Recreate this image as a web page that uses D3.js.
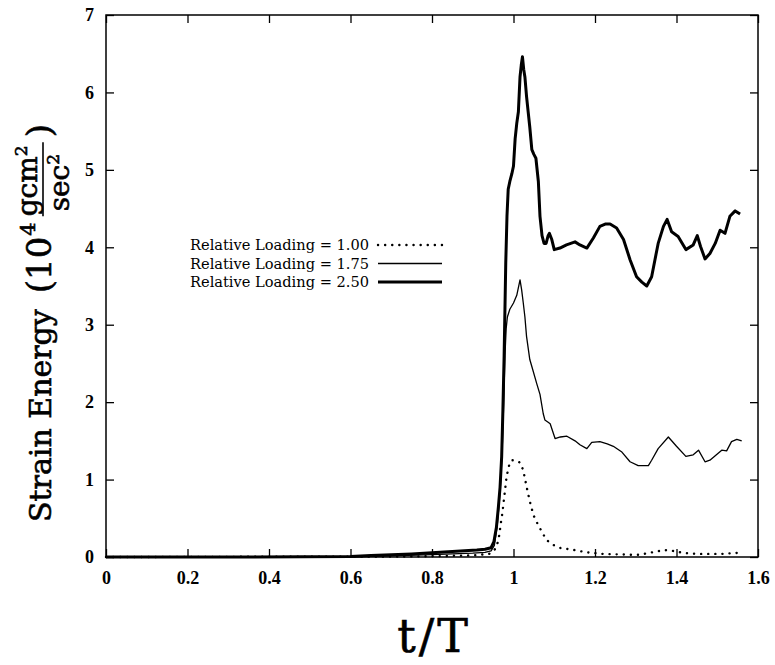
<!DOCTYPE html>
<html>
<head>
<meta charset="utf-8">
<script src="https://cdn.jsdelivr.net/npm/d3@7"></script>
<style>
  body { margin: 0; background: #fff; }
  svg { display: block; }
  .tick-label { font-family: "Liberation Serif", serif; font-weight: bold; font-size: 18px; }
  .legend-label { font-family: "DejaVu Serif", serif; font-size: 14.6px; }
  .axis-title { font-family: "DejaVu Serif", serif; stroke: #000; stroke-width: 0.6px; }
</style>
</head>
<body>
<div id="chart"></div>
<script>
// t/T values and strain energy (10^4 g cm^2 / sec^2)
const load100 = [
  [0, 0], [0.7, 0.005], [0.8, 0.01], [0.9, 0.02], [0.94, 0.04], [0.952, 0.08],
  [0.959, 0.14], [0.965, 0.28], [0.969, 0.44], [0.973, 0.58], [0.976, 0.72],
  [0.979, 0.85], [0.983, 1.04], [0.99, 1.2], [0.996, 1.25], [1.004, 1.25],
  [1.016, 1.22], [1.024, 1.12], [1.032, 0.91], [1.04, 0.72], [1.049, 0.54],
  [1.058, 0.44], [1.069, 0.33], [1.081, 0.22], [1.098, 0.155], [1.118, 0.11],
  [1.139, 0.1], [1.159, 0.08], [1.18, 0.06], [1.2, 0.05], [1.22, 0.04],
  [1.25, 0.035], [1.28, 0.03], [1.31, 0.03], [1.34, 0.06], [1.37, 0.09],
  [1.39, 0.08], [1.42, 0.05], [1.45, 0.04], [1.48, 0.04], [1.51, 0.04],
  [1.54, 0.05], [1.555, 0.055],
];

const load175 = [
  [0, 0], [0.6, 0.003], [0.7, 0.015], [0.8, 0.03], [0.85, 0.04], [0.9, 0.05],
  [0.93, 0.06], [0.945, 0.08], [0.953, 0.15], [0.96, 0.4], [0.965, 0.7],
  [0.969, 1.0], [0.973, 1.5], [0.976, 2.0], [0.979, 2.6], [0.982, 2.95],
  [0.985, 3.1], [0.991, 3.2], [1.0, 3.28], [1.008, 3.38], [1.016, 3.58],
  [1.02, 3.45], [1.024, 3.28], [1.028, 3.1], [1.032, 2.85], [1.04, 2.55],
  [1.045, 2.46], [1.057, 2.24], [1.065, 2.1], [1.073, 1.85], [1.077, 1.77],
  [1.085, 1.74], [1.09, 1.72], [1.102, 1.53], [1.115, 1.55], [1.131, 1.56],
  [1.151, 1.5], [1.163, 1.45], [1.18, 1.4], [1.192, 1.48], [1.212, 1.49],
  [1.23, 1.46], [1.245, 1.43], [1.265, 1.36], [1.286, 1.23], [1.306, 1.18],
  [1.331, 1.18], [1.339, 1.25], [1.355, 1.4], [1.38, 1.55], [1.4, 1.43],
  [1.423, 1.3], [1.441, 1.32], [1.454, 1.38], [1.47, 1.23], [1.482, 1.25],
  [1.511, 1.38], [1.523, 1.37], [1.535, 1.49], [1.548, 1.52], [1.56, 1.5],
];

const load250 = [
  [0, 0], [0.3, 0], [0.6, 0.005], [0.65, 0.02], [0.7, 0.03], [0.75, 0.04],
  [0.8, 0.055], [0.85, 0.07], [0.88, 0.08], [0.91, 0.09], [0.93, 0.1],
  [0.945, 0.12], [0.952, 0.2], [0.958, 0.38], [0.963, 0.65], [0.967, 0.9],
  [0.971, 1.3], [0.974, 1.9], [0.977, 2.6], [0.979, 3.2], [0.981, 3.8],
  [0.984, 4.4], [0.987, 4.75], [0.991, 4.85], [0.996, 4.95], [1.0, 5.05],
  [1.004, 5.4], [1.008, 5.6], [1.012, 5.75], [1.016, 6.2], [1.019, 6.35],
  [1.022, 6.46], [1.025, 6.3], [1.028, 6.2], [1.032, 5.95], [1.036, 5.75],
  [1.04, 5.55], [1.045, 5.26], [1.05, 5.2], [1.055, 5.15], [1.061, 4.85],
  [1.065, 4.4], [1.07, 4.15], [1.075, 4.05], [1.08, 4.05], [1.085, 4.15],
  [1.088, 4.18], [1.094, 4.1], [1.1, 3.97], [1.114, 3.99], [1.13, 4.03],
  [1.151, 4.07], [1.163, 4.03], [1.18, 3.99], [1.196, 4.12], [1.212, 4.27],
  [1.225, 4.3], [1.237, 4.3], [1.253, 4.25], [1.27, 4.1], [1.286, 3.84],
  [1.302, 3.62], [1.315, 3.55], [1.327, 3.5], [1.339, 3.62], [1.355, 4.05],
  [1.368, 4.27], [1.377, 4.36], [1.388, 4.2], [1.404, 4.14], [1.423, 3.97],
  [1.441, 4.03], [1.451, 4.15], [1.459, 4.01], [1.47, 3.85], [1.482, 3.92],
  [1.495, 4.05], [1.507, 4.22], [1.519, 4.18], [1.531, 4.4], [1.544, 4.47],
  [1.556, 4.43],
];

const xTicks = [0, 0.2, 0.4, 0.6, 0.8, 1, 1.2, 1.4, 1.6];
const yTicks = [0, 1, 2, 3, 4, 5, 6, 7];
const legendLabels = [
  "Relative Loading = 1.00",
  "Relative Loading = 1.75",
  "Relative Loading = 2.50",
];

const width = 775;
const height = 665;
const margin = { top: 15, right: 17, bottom: 108, left: 106 };
const tickLen = 8;

const x = d3.scaleLinear().domain([0, 1.6]).range([margin.left, width - margin.right]);
const y = d3.scaleLinear().domain([0, 7]).range([height - margin.bottom, margin.top]);

const svg = d3
  .select("#chart")
  .append("svg")
  .attr("width", width)
  .attr("height", height);

// frame with inward ticks on all four sides
const fmt = (d) => (d === 0 || d === 1 ? String(d) : d3.format(".1f")(d));

svg
  .append("g")
  .attr("transform", `translate(0,${y(0)})`)
  .call(d3.axisBottom(x).tickValues(xTicks).tickSize(-tickLen).tickPadding(14).tickFormat(fmt))
  .call((g) => g.select(".domain").remove())
  .call((g) => g.selectAll("text").attr("class", "tick-label").attr("fill", "#000").attr("dy", "0.71em"));

svg
  .append("g")
  .attr("transform", `translate(0,${y(7)})`)
  .call(d3.axisTop(x).tickValues(xTicks).tickSize(-tickLen).tickFormat(""))
  .call((g) => g.select(".domain").remove());

svg
  .append("g")
  .attr("transform", `translate(${x(0)},0)`)
  .call(d3.axisLeft(y).tickValues(yTicks).tickSize(-tickLen).tickPadding(12).tickFormat(d3.format("d")))
  .call((g) => g.select(".domain").remove())
  .call((g) => g.selectAll("text").attr("class", "tick-label").attr("fill", "#000"));

svg
  .append("g")
  .attr("transform", `translate(${x(1.6)},0)`)
  .call(d3.axisRight(y).tickValues(yTicks).tickSize(-tickLen).tickFormat(""))
  .call((g) => g.select(".domain").remove());

svg.selectAll(".tick line").attr("stroke", "#000").attr("stroke-width", 1.3);

svg
  .append("rect")
  .attr("x", x(0))
  .attr("y", y(7))
  .attr("width", x(1.6) - x(0))
  .attr("height", y(0) - y(7))
  .attr("fill", "none")
  .attr("stroke", "#000")
  .attr("stroke-width", 1.5);

// curves
const line = d3
  .line()
  .x((d) => x(d[0]))
  .y((d) => y(d[1]));

const styles = [
  { width: 2.4, dash: "0.1 7", cap: "round" },
  { width: 1.3, dash: null, cap: "butt" },
  { width: 3, dash: null, cap: "butt" },
];

const series = [load100, load175, load250];

svg
  .append("g")
  .selectAll("path")
  .data(series)
  .join("path")
  .attr("fill", "none")
  .attr("stroke", "#000")
  .attr("stroke-linejoin", "round")
  .attr("stroke-width", (d, i) => styles[i].width)
  .attr("stroke-dasharray", (d, i) => styles[i].dash)
  .attr("stroke-linecap", (d, i) => styles[i].cap)
  .attr("d", line);

// legend
const legend = svg
  .append("g")
  .selectAll("g")
  .data(legendLabels)
  .join("g")
  .attr("transform", (d, i) => `translate(0,${245 + i * 18.5})`);

legend
  .append("text")
  .attr("class", "legend-label")
  .attr("x", 369)
  .attr("dy", "0.35em")
  .attr("text-anchor", "end")
  .text((d) => d);

legend
  .append("line")
  .attr("x1", 378)
  .attr("x2", 442)
  .attr("stroke", "#000")
  .attr("stroke-width", (d, i) => styles[i].width)
  .attr("stroke-dasharray", (d, i) => styles[i].dash)
  .attr("stroke-linecap", (d, i) => styles[i].cap);

// x title
svg
  .append("text")
  .attr("class", "axis-title")
  .attr("x", x(0.8) + 2)
  .attr("y", 652)
  .attr("text-anchor", "middle")
  .attr("font-size", 46)
  .attr("letter-spacing", 3)
  .text("t/T");

// y title, with stacked fraction for the units
const yTitle = svg.append("g").attr("transform", "translate(51,522)rotate(-90)");

const addText = (str, size, px, py) =>
  yTitle
    .append("text")
    .attr("class", "axis-title")
    .attr("font-size", size)
    .attr("x", px)
    .attr("y", py)
    .text(str);

let pos = addText("Strain Energy", 30, 0, 0).node().getComputedTextLength() + 16;
const paren = addText("(10", 34, pos, 0);
pos += paren.node().getComputedTextLength() + 1;
const sup = addText("4", 21, pos, -16);
pos += sup.node().getComputedTextLength() + 6;

const num = addText("gcm", 28, pos, -14);
num.append("tspan").attr("font-size", 17).attr("dy", -10).text("2");
const numW = num.node().getComputedTextLength();

const den = addText("sec", 28, pos + 5, 18);
den.append("tspan").attr("font-size", 17).attr("dy", -10).text("2");

yTitle
  .append("line")
  .attr("x1", pos)
  .attr("x2", pos + numW + 3)
  .attr("y1", -8)
  .attr("y2", -8)
  .attr("stroke", "#000")
  .attr("stroke-width", 1.6);

addText(")", 34, pos + numW + 8, 0);
</script>
</body>
</html>
